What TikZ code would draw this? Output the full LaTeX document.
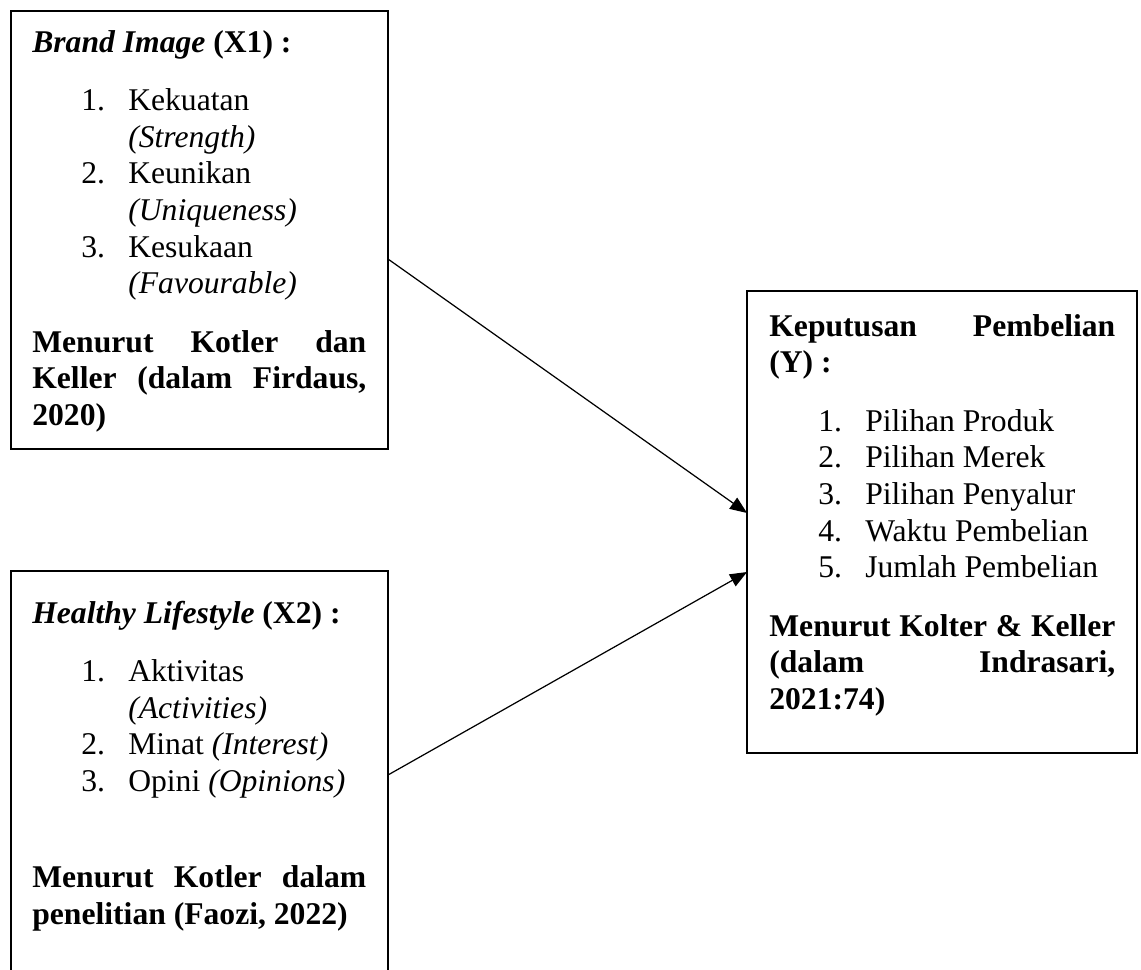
\documentclass[tikz,border=0pt]{standalone}
\usepackage{fontspec}
\setmainfont{Liberation Serif}
\usepackage{tikz}
\usetikzlibrary{arrows.meta,calc}
\setlength{\parindent}{0pt}
\newcommand{\LineColor}{black}
\newcommand{\butir}[2]{\par\hangindent=1.92cm\hangafter=1\noindent\hspace*{0.98cm}\makebox[0.94cm][l]{#1}#2}
\newcommand{\jeda}{\par\vspace{0.44cm}}

\begin{document}
\begin{tikzpicture}[>={Triangle[length=0.34cm,width=0.27cm]},
  x=0.02cm,y=-0.02cm,
  kotak/.style={draw=\LineColor,line width=1.1pt,inner sep=0pt,outer sep=0pt},
  teks/.style={anchor=north west,inner sep=0pt,text width=6.68cm,align=justify,
    font=\fontsize{18pt}{20.8pt}\selectfont},
  panah/.style={->,draw=\LineColor,line width=0.7pt,line cap=round}]
  \useasboundingbox (0,0) rectangle (1141,969);
  \clip (0,0) rectangle (1141,969);
  % kotak
  \node[kotak,minimum width=7.54cm,minimum height=8.76cm] (bi) at (199.5,230) {};
  \node[kotak,minimum width=7.54cm,minimum height=8.8cm] (hl) at (199.5,791) {};
  \node[kotak,minimum width=7.8cm,minimum height=9.24cm] (kp) at (942,522) {};
  % isi
  \node[teks] (bi-isi) at (32,26.4) {\strut\textbf{\textit{Brand Image} (X1) :}\jeda
    \butir{1.}{Kekuatan\newline \textit{(Strength)}}
    \butir{2.}{Keunikan\newline \textit{(Uniqueness)}}
    \butir{3.}{Kesukaan\newline \textit{(Favourable)}}\jeda
    \textbf{Menurut Kotler dan\linebreak Keller (dalam Firdaus,\linebreak 2020)}};
  \node[teks] (hl-isi) at (32,597.4) {\strut\textbf{\textit{Healthy Lifestyle} (X2) :}\jeda
    \butir{1.}{Aktivitas\newline \textit{(Activities)}}
    \butir{2.}{Minat \textit{(Interest)}}
    \butir{3.}{Opini \textit{(Opinions)}}\par\vspace{1.19cm}
    \textbf{Menurut Kotler dalam\linebreak penelitian (Faozi, 2022)}};
  \node[teks,text width=6.92cm] (kp-isi) at (769,310.4) {\strut\textbf{Keputusan Pembelian\linebreak (Y) :}\jeda
    \butir{1.}{Pilihan Produk}
    \butir{2.}{Pilihan Merek}
    \butir{3.}{Pilihan Penyalur}
    \butir{4.}{Waktu Pembelian}
    \butir{5.}{Jumlah Pembelian}\jeda
    \textbf{Menurut Kolter \& Keller\linebreak (dalam Indrasari,\linebreak 2021:74)}};
  % panah
  \draw[panah] ($(bi.east)+(0,29)$) -- ($(kp.west)+(0,-9)$);
  \draw[panah] ($(hl.east)+(0,-16)$) -- ($(kp.west)+(0,50)$);
\end{tikzpicture}
\end{document}
